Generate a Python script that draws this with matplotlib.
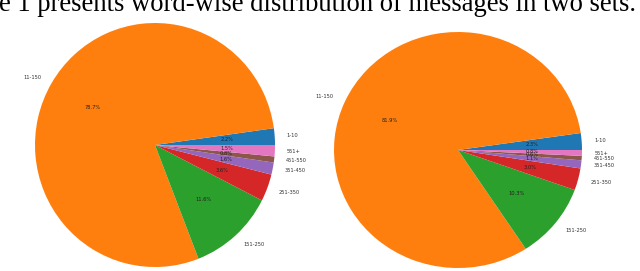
import matplotlib.pyplot as plt

# word-count buckets and share of messages (%) in the two sets
buckets = ['1-10', '11-150', '151-250', '251-350', '351-450', '451-550', '551+']
set1_share = [2.2, 78.7, 11.6, 3.6, 1.6, 0.8, 1.5]
set2_share = [2.3, 81.9, 10.3, 3.0, 1.1, 0.6, 0.8]

caption = 'e 1 presents word-wise distribution of messages in two sets.'

W, H = 640, 271
fig = plt.figure(figsize=(W / 100, H / 100), dpi=100)


def px_axes(cx, cy, rx, ry):
    # axes placed so the unit pie has centre (cx, cy) and radii rx, ry in pixels (y from top)
    w, h = 2.5 * rx, 2.5 * ry
    return fig.add_axes([(cx - w / 2) / W, (H - cy - h / 2) / H, w / W, h / H])


for vals, (cx, cy, rx, ry) in [(set1_share, (155, 145, 120, 122)),
                               (set2_share, (458, 150, 124, 118))]:
    ax = px_axes(cx, cy, rx, ry)
    wedges, texts, autotexts = ax.pie(vals, labels=buckets, autopct='%1.1f%%',
                                      textprops={'fontsize': 3.7, 'color': '#333333'})
    for t in autotexts:
        t.set_color('#222222')
    ax.set_aspect('auto')
    ax.set_xlim(-1.25, 1.25)
    ax.set_ylim(-1.25, 1.25)

fig.text(-0.002, (H - 11) / H, caption, ha='left', va='baseline',
         family='Liberation Serif', fontsize=19.2, color='black')

fig.savefig('out.png', dpi=100)
